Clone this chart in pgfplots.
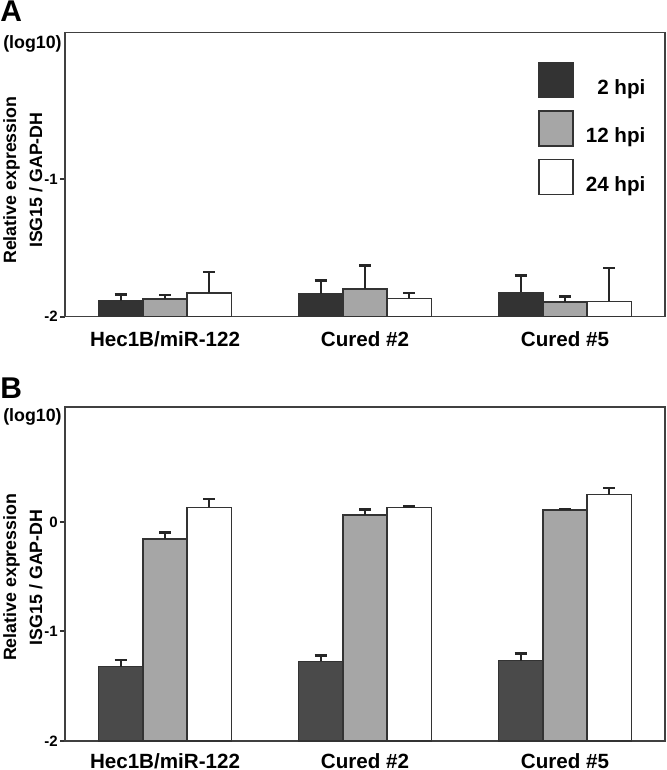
\documentclass[border=0pt]{standalone}
\usepackage{fontspec}
\setmainfont{Liberation Sans}
\usepackage{pgfplots}
\pgfplotsset{compat=1.18}

\definecolor{darkA}{HTML}{333333}
\definecolor{darkB}{HTML}{4A4A4A}
\definecolor{midg}{HTML}{A6A6A6}
\definecolor{edge}{HTML}{333333}

\pgfplotsset{
 panel/.style={
  scale only axis, width=300pt,
  xmin=-0.5, xmax=2.5, ymin=-2,
  y coord trafo/.code={\pgfmathparse{##1+2}},
  y coord inv trafo/.code={\pgfmathparse{##1-2}},
  ybar=0pt, bar width=22.15pt,
  xtick={0,1,2}, xticklabels={Hec1B/miR-122, Cured \#2, Cured \#5},
  x tick style={draw=none},
  ytick pos=left, tick align=outside, major tick length=2.5pt,
  y tick style={line width=1pt, black!80},
  axis line style={black!75, line width=0.8pt},
  xticklabel style={font=\bfseries\fontsize{10.3}{12}\selectfont, inner sep=0pt, yshift=-5pt},
  yticklabel style={font=\bfseries\fontsize{7.5}{9}\selectfont, inner sep=1pt},
  /pgf/number format/assume math mode=true,
  every axis y label/.style={rotate=90, anchor=south, inner sep=0pt, align=center, font=\bfseries\fontsize{8.9}{13}\selectfont},
  ylabel={Relative expression\\ISG15 / GAP-DH},
  error bars/y dir=plus, error bars/y explicit,
  error bars/error mark=|,
  error bars/error bar style={line width=1pt, black!85},
  error bars/error mark options={line width=1.3pt, mark size=3pt, black!85},
  clip=false,
 }
}

\begin{document}
\begin{tikzpicture}
\path[use as bounding box] (0,0) rectangle (333pt,-385pt);

\node[anchor=north west, inner sep=0pt, font=\bfseries\fontsize{15}{18}\selectfont] at (0pt,0pt) {A};
\node[anchor=north west, inner sep=0pt, font=\bfseries\fontsize{15}{18}\selectfont] at (0pt,-188.5pt) {B};

\begin{axis}[panel, at={(32.5pt,-158.25pt)}, anchor=south west, height=142pt,
  ymax=0.065, ytick={-2,-1}, yticklabels={-2,-1},
  every axis y label/.append style={at={([xshift=-11pt]rel axis cs:0,0.48)}},
  legend image code/.code={\draw[#1] (0pt,-8.75pt) rectangle (17pt,8.75pt);},
  legend cell align=right,
  legend style={at={(rel axis cs:0.789,0.896)}, anchor=north west, draw=none, fill=none,
    inner sep=0pt, outer sep=0pt, row sep=6pt, column sep=6pt,
    font=\bfseries\fontsize{10.3}{12}\selectfont, nodes={inner sep=0pt, yshift=-4pt}},
]
\node[anchor=east, inner sep=0pt, font=\bfseries\fontsize{8.9}{11}\selectfont, xshift=-1.5pt, yshift=-5.5pt] at (rel axis cs:0,1) {(log10)};
\addplot[fill=darkA, draw=edge, line width=0.7pt] coordinates {
 (0,-1.885) +- (0,0.046)
 (1,-1.836) +- (0,0.096)
 (2,-1.824) +- (0,0.120)
};
\addplot[fill=midg, draw=edge, line width=0.7pt] coordinates {
 (0,-1.872) +- (0,0.029)
 (1,-1.800) +- (0,0.171)
 (2,-1.894) +- (0,0.041)
};
\addplot[fill=white, draw=edge, line width=0.7pt] coordinates {
 (0,-1.829) +- (0,0.153)
 (1,-1.867) +- (0,0.038)
 (2,-1.889) +- (0,0.242)
};
\legend{2 hpi, 12 hpi, 24 hpi}
\end{axis}

\begin{axis}[panel, at={(32.5pt,-370.5pt)}, anchor=south west, height=167pt,
  ymax=1.05, ytick={-2,-1,0}, yticklabels={-2,-1,0},
  xticklabel style={yshift=1.5pt},
  every axis y label/.append style={at={([xshift=-11pt]rel axis cs:0,0.49)}},
]
\node[anchor=east, inner sep=0pt, font=\bfseries\fontsize{8.9}{11}\selectfont, xshift=-1.5pt, yshift=-5pt] at (rel axis cs:0,1) {(log10)};
\addplot[fill=darkB, draw=edge, line width=0.7pt] coordinates {
 (0,-1.321) +- (0,0.060)
 (1,-1.272) +- (0,0.051)
 (2,-1.267) +- (0,0.068)
};
\addplot[fill=midg, draw=edge, line width=0.7pt] coordinates {
 (0,-0.155) +- (0,0.060)
 (1,0.064) +- (0,0.052)
 (2,0.110) +- (0,0.008)
};
\addplot[fill=white, draw=edge, line width=0.7pt] coordinates {
 (0,0.134) +- (0,0.076)
 (1,0.131) +- (0,0.008)
 (2,0.249) +- (0,0.062)
};
\end{axis}
\end{tikzpicture}
\end{document}
